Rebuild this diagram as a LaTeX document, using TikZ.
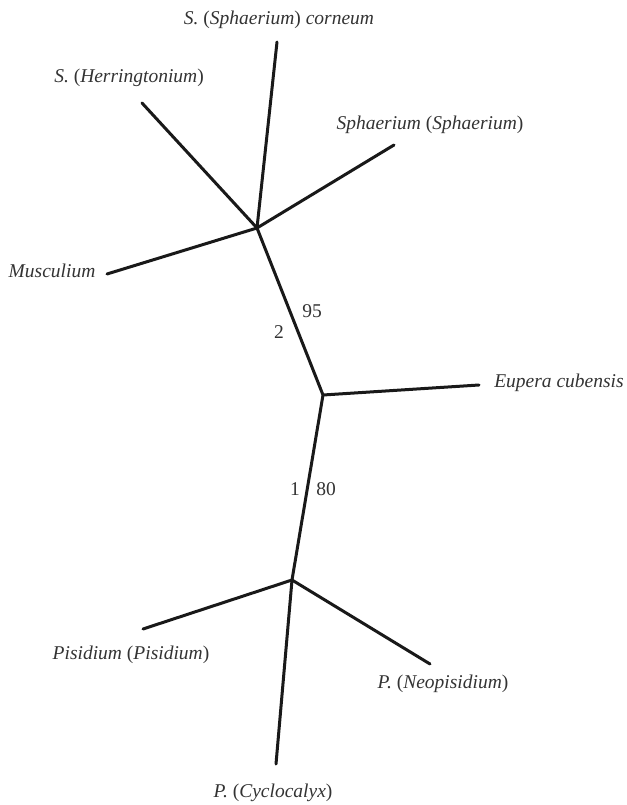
\documentclass[tikz,border=0pt]{standalone}
\usepackage{fontspec}
\setmainfont{Liberation Serif}
\usetikzlibrary{positioning}
\newcommand{\subgen}[1]{\textup{(}\textit{#1}\textup{)}}
\tikzset{
  branch/.style={line width=3pt, black!90, line cap=round},
  taxon/.style={font=\fontsize{19.5}{23}\selectfont\itshape, text=black!80, inner sep=0pt},
  support/.style={font=\fontsize{19.5}{23}\selectfont, text=black!80, inner sep=0pt}
}
\begin{document}
\begin{tikzpicture}[x=1pt, y=-1pt]
  \useasboundingbox (0,0) rectangle (626,805);
  % internal nodes
  \coordinate (top) at (257,228);
  \coordinate (mid) at (323,395);
  \coordinate (low) at (292,580);
  % tips
  \coordinate (cor) at (277,42);
  \coordinate (her) at (142,103);
  \coordinate (sph) at (394,145);
  \coordinate (mus) at (107,274);
  \coordinate (eup) at (479,385);
  \coordinate (pis) at (143,629);
  \coordinate (neo) at (430,664);
  \coordinate (cyc) at (276,764);
  % branches
  \foreach \t in {cor,her,sph,mus} \draw[branch] (top) -- (\t);
  \foreach \t in {pis,neo,cyc} \draw[branch] (low) -- (\t);
  \draw[branch] (top) -- (mid) -- (low);
  \draw[branch] (mid) -- (eup);
  % labels
  \node[taxon] (lcor) at (279,20) {S. \subgen{Sphaerium} corneum};
  \node[taxon] (lher) at (129,78) {S. \subgen{Herringtonium}};
  \node[taxon] (lsph) at (430,125) {Sphaerium \subgen{Sphaerium}};
  \node[taxon] (lmus) at (52,271) {Musculium};
  \node[taxon] (leup) at (559,383) {Eupera cubensis};
  \node[taxon] (lpis) at (131,655) {Pisidium \subgen{Pisidium}};
  \node[taxon] (lneo) at (443,684) {P. \subgen{Neopisidium}};
  \node[taxon] (lcyc) at (273,793) {P. \subgen{Cyclocalyx}};
  % support values
  \node[support] (s95) at (312,311) {95};
  \node[support] (s2) at (279,332) {2};
  \node[support] (s1) at (295,489) {1};
  \node[support] (s80) at (326,489) {80};
\end{tikzpicture}
\end{document}
